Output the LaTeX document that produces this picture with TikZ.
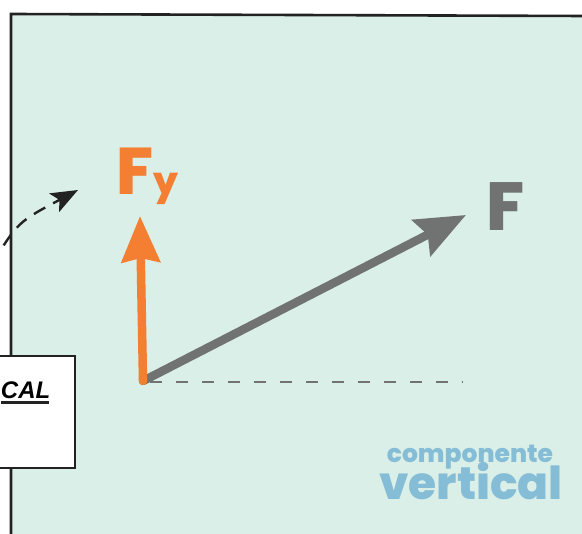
\documentclass[tikz,border=0pt]{standalone}
\usepackage{fontspec}
\setmainfont{Poppins}
\newfontfamily\heavy{Poppins ExtraBold}
\newfontfamily\comic{Liberation Sans}
\usetikzlibrary{arrows.meta}
\definecolor{mint}{HTML}{DAEFE8}
\definecolor{forange}{HTML}{F47E32}
\definecolor{fgray}{HTML}{707372}
\definecolor{fblue}{HTML}{86BDD6}
\definecolor{ink}{HTML}{222222}
\begin{document}
\begin{tikzpicture}[x=1pt,y=-1pt,
  border/.style={draw=ink, line width=2.6pt},
  boxst/.style={draw=ink, line width=2.6pt, fill=white, inner sep=0pt},
  lbl/.style={inner sep=0pt, outer sep=0pt, font=\heavy},
  vec/.style={line width=8.5pt},
  guide/.style={draw=fgray, line width=2pt, dash pattern=on 12pt off 14pt},
  pointer/.style={draw=ink, line width=2.4pt, dash pattern=on 13pt off 9pt, -{Stealth[length=27pt,width=21pt,inset=6pt]}}
]
\useasboundingbox (0,0) rectangle (582,534);
\clip (0,0) rectangle (582,534);
% panel
\fill[mint] (11,14) -- (582,16) -- (582,540) -- (11,540) -- cycle;
\draw[border] (11,540) -- (11,14) -- (584,16);
% box on the left
\node (box) [boxst, minimum width=96pt, minimum height=112pt] at (27,412) {};
\node (cal) [lbl, anchor=base west, font=\comic\bfseries\itshape\fontsize{24}{24}\selectfont] at (1,399) {CAL};
\draw[draw=ink, line width=2.4pt] ([yshift=-3.5pt]cal.base west) -- ([yshift=-3.5pt,xshift=-1pt]cal.base east);
% dashed pointer
\coordinate (ds) at (-8,264);
\coordinate (de) at (78,190);
\draw[pointer] (ds) .. controls (18,222) .. (de);
% vectors
\coordinate (O) at (143,381);
\coordinate (fytip) at (140,216);
\coordinate (ftip) at (466,215);
\coordinate (gend) at (463,382);
\draw[guide] (150,382) -- (gend);
\draw[vec, draw=fgray, line cap=round, -{Stealth[length=50pt,width=40pt,inset=7pt]}] (O) -- (ftip);
\draw[vec, draw=forange, line cap=round, -{Stealth[length=46pt,width=38pt,inset=4pt]}] (O) -- (fytip);
% labels
\node (fy) [lbl, anchor=base west, text=forange] at (116,195) {\fontsize{66}{66}\selectfont F\fontsize{38}{38}\selectfont y};
\node (f) [lbl, anchor=base west, text=fgray] at (486,231) {\fontsize{68}{68}\selectfont F};
\node (comp) [lbl, anchor=base, text=fblue, font=\heavy\fontsize{25}{25}\selectfont] at (470,463) {componente};
\node (vert) [lbl, anchor=base, text=fblue, font=\heavy\fontsize{45.5}{45.5}\selectfont] at (471,500) {vertical};
\end{tikzpicture}
\end{document}
